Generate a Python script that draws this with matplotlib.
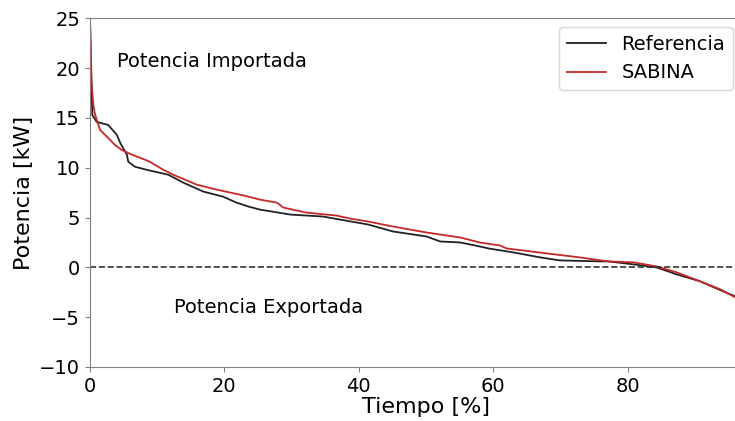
import matplotlib
matplotlib.use('Agg')
import matplotlib.pyplot as plt
import numpy as np

# Curvas de duracion
ref_x = [0, 0.15, 0.35, 1.0, 2.7, 4.0, 4.5, 5.5, 5.7, 6.7, 8.4, 11.65, 13.9, 16.9, 19.8,
         21.8, 23.6, 25.3, 29.8, 34.7, 37.2, 41.4, 45.1, 50.1, 52.1, 55.1, 58.0, 59.3,
         63.0, 67.0, 69.9, 75.9, 77.1, 80.9, 84.3, 87.3, 90.8, 94.2, 96.0, 97.0]
ref_y = [25, 20, 15.3, 14.6, 14.3, 13.3, 12.5, 11.3, 10.6, 10.1, 9.8, 9.3, 8.5, 7.6, 7.1,
         6.5, 6.1, 5.8, 5.3, 5.1, 4.8, 4.3, 3.6, 3.1, 2.6, 2.5, 2.1, 1.9,
         1.5, 1.0, 0.7, 0.6, 0.6, 0.3, 0.0, -0.7, -1.4, -2.4, -2.9, -3.2]

sab_x = [0, 0.25, 0.5, 0.74, 1.5, 2.7, 3.7, 4.7, 5.95, 8.2, 8.9, 10.9, 12.4, 15.9, 18.9,
         22.3, 23.6, 25.3, 27.8, 28.8, 32.2, 36.7, 38.7, 41.4, 45.1, 50.1, 55.1, 58.0,
         61.0, 62.0, 68.0, 72.9, 77.1, 80.9, 84.3, 87.3, 90.8, 93.8, 96.0, 97.0]
sab_y = [25, 18.6, 16.3, 15.4, 13.8, 13.0, 12.3, 11.8, 11.4, 10.8, 10.6, 9.8, 9.3, 8.3, 7.8,
         7.3, 7.1, 6.8, 6.5, 6.0, 5.5, 5.2, 4.9, 4.6, 4.1, 3.5, 3.0, 2.5,
         2.2, 1.9, 1.4, 1.0, 0.6, 0.5, 0.1, -0.5, -1.4, -2.2, -3.0, -3.4]

y_ticks = [-10, -5, 0, 5, 10, 15, 20, 25]
x_ticks = [0, 20, 40, 60, 80]


def main():
    fig = plt.figure(figsize=(7.35, 4.21), dpi=100)
    # la figura original esta recortada por la derecha
    ax = fig.add_axes([0.1224, 0.1283, 0.9143, 0.8282])

    ax.plot(ref_x, ref_y, color='#222222', lw=1.3, label='Referencia')
    ax.plot(sab_x, sab_y, color='#c62828', lw=1.3, label='SABINA')
    ax.axhline(0, color='#333333', ls='--', lw=1.2)

    ax.text(4.0, 20.7, 'Potencia Importada', fontsize=14, va='center')
    ax.text(12.5, -4.0, 'Potencia Exportada', fontsize=14, va='center')

    ax.set_xlim(0, 100)
    ax.set_ylim(-10, 25)
    ax.set_xticks(x_ticks)
    ax.set_yticks(y_ticks)
    ax.tick_params(labelsize=14, color='0.5')
    for s in ax.spines.values():
        s.set_color('0.5')
    ax.set_xlabel('Tiempo [%]', fontsize=16, labelpad=1)
    ax.set_ylabel('Potencia [kW]', fontsize=16)

    ax.legend(loc='upper right', bbox_to_anchor=(733 / 735, 1 - 27 / 421),
              bbox_transform=fig.transFigure, borderaxespad=0, fontsize=14)

    fig.savefig('out.png', dpi=100)


if __name__ == '__main__':
    main()
